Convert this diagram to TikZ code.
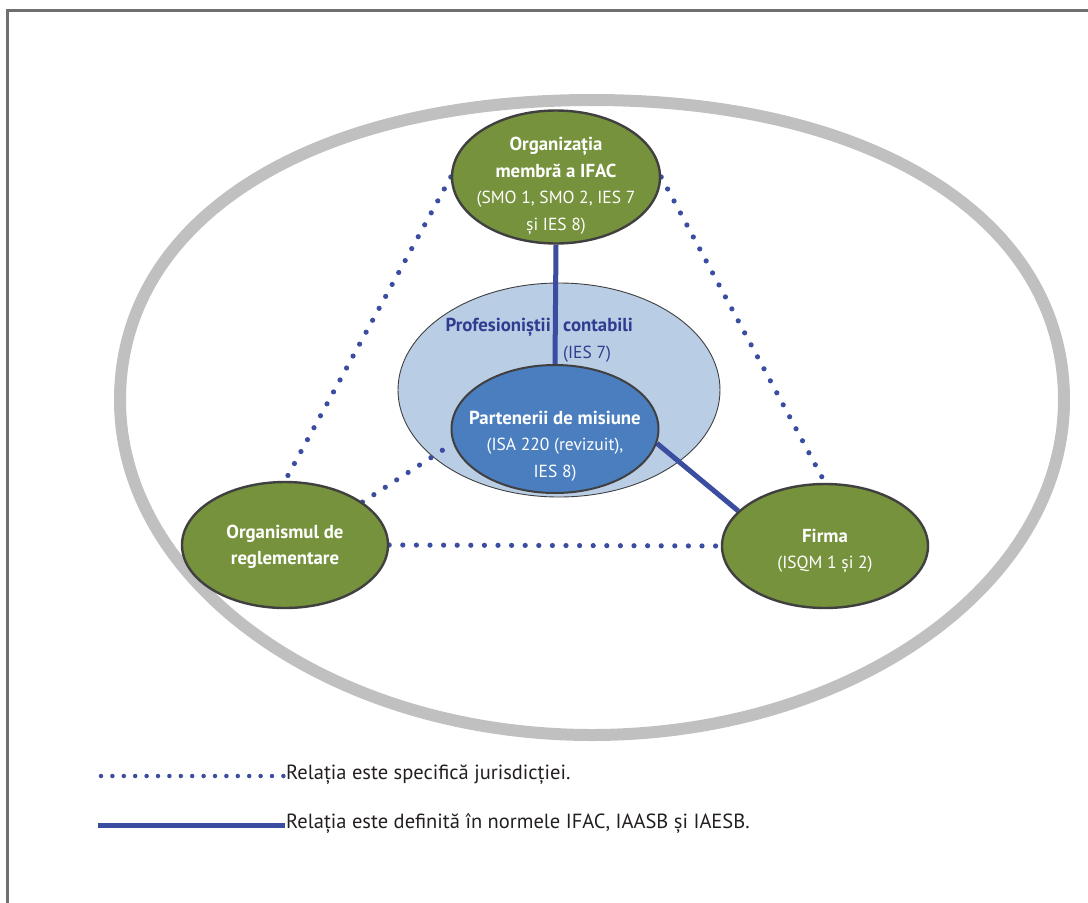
\documentclass[tikz,border=0pt]{standalone}
\usepackage{fontspec}
\setmainfont{PT Sans}
\usetikzlibrary{shapes.geometric}

\definecolor{framegray}{HTML}{707070}
\definecolor{ringgray}{HTML}{C0C0C0}
\definecolor{olivefill}{HTML}{76923C}
\definecolor{nodeedge}{HTML}{404040}
\definecolor{paleblue}{HTML}{B9CDE5}
\definecolor{midblue}{HTML}{4A7EBF}
\definecolor{linkblue}{HTML}{3A4DA0}
\definecolor{titleblue}{HTML}{2E3D8F}
\definecolor{legendtext}{HTML}{231F20}

\pgfdeclarelayer{base}
\pgfdeclarelayer{links}
\pgfsetlayers{base,links,main}

% bold lines are set a little larger than the regular ones
\newcommand{\bline}[1]{{\fontsize{18.8}{26.5}\selectfont\bfseries #1}}

\begin{document}
\begin{tikzpicture}[x=1pt,y=-1pt,
  bubble/.style={ellipse,draw=nodeedge,line width=2.4pt,inner sep=0pt},
  greenbubble/.style={bubble,fill=olivefill},
  nodetxt/.style={font=\fontsize{17.5}{26.5}\selectfont,align=center,text=white,inner sep=0pt},
  titletxt/.style={font=\fontsize{17.5}{26.5}\selectfont,text=titleblue,inner sep=0pt},
  legendtxt/.style={font=\fontsize{20.5}{24}\selectfont,text=legendtext,inner sep=0pt,anchor=west},
  dotlink/.style={draw=linkblue,line width=5.2pt,line cap=round,dash pattern=on 0pt off 13.6pt},
  legenddots/.style={draw=linkblue,line width=4.5pt,line cap=round,dash pattern=on 0pt off 11.4pt},
  solidlink/.style={draw=linkblue,line width=5pt}
]
\useasboundingbox (0,0) rectangle (1088,903);

% page frame (top and left edges)
\draw[framegray,line width=3pt] (7,903) -- (7,10) -- (1088,10);

% outer ring (fuller in its upper half) and the accountants' area
\begin{pgfonlayer}{base}
  \draw[ringgray,line width=12pt]
    (592,100) .. controls (308.8,100) and (120,220) .. (120,400)
              .. controls (120,584.3) and (332.4,735) .. (592,735)
              .. controls (851.6,735) and (1064,584.3) .. (1064,400)
              .. controls (1064,220) and (875.2,100) .. (592,100) -- cycle;
  \node[ellipse,fill=paleblue,draw=nodeedge,line width=0.9pt,inner sep=0pt,
        minimum width=322pt,minimum height=214pt] (pc) at (559,390) {};
\end{pgfonlayer}

% parties
\node[greenbubble,minimum width=208pt,minimum height=133pt] (org) at (556,177) {};
\node[bubble,fill=midblue,line width=2pt,minimum width=207pt,minimum height=128pt] (pm) at (555,429) {};
\node[greenbubble,minimum width=206pt,minimum height=126pt] (om) at (285,545) {};
\node[greenbubble,minimum width=206pt,minimum height=124pt] (firma) at (825,546) {};

% texts
\node[nodetxt] (orgtext) at (556,186) {\bline{Organizația}\\\bline{membră a IFAC}\\(SMO 1, SMO 2, IES 7\\și IES 8)};
\node[nodetxt] (pmtext) at (555,446) {\bline{Partenerii de misiune}\\(ISA 220 (revizuit),\\IES 8)};
\node[nodetxt] (omtext) at (285,547) {\bline{Organismul de}\\\bline{reglementare}};
\node[nodetxt] (firmatext) at (825,551) {\bline{Firma}\\(ISQM 1 și 2)};
\node[titletxt,anchor=base east] (pctitlea) at (551,331) {\bline{Profesioniștii}};
\node[titletxt,anchor=base west] (pctitleb) at (563,331) {\bline{contabili}};
\node[titletxt,anchor=base west] (pcsub) at (563,358) {(IES 7)};

% relations
\begin{pgfonlayer}{links}
  \draw[solidlink] (org.south) -- (pm.north);
  \draw[solidlink] (pm.-8) -- (firma.158);
  \draw[dotlink] (org.west) -- (om.north);
  \draw[dotlink] (org.east) -- (firma.north);
  \draw[dotlink] (om.east) -- (firma.west);
  \draw[dotlink] (om.29) -- (pm.188);
\end{pgfonlayer}

% legend
\coordinate (dotsa) at (101,776);
\coordinate (dotsb) at (284,776);
\coordinate (linea) at (98,825);
\coordinate (lineb) at (285,825);
\draw[legenddots] (dotsa) -- (dotsb);
\draw[solidlink] (linea) -- (lineb);
\node[legendtxt] (legdots) at (286,775) {Relația este specifică jurisdicției.};
\node[legendtxt] (legline) at (286,823) {Relația este definită în normele IFAC, IAASB și IAESB.};
\end{tikzpicture}
\end{document}
